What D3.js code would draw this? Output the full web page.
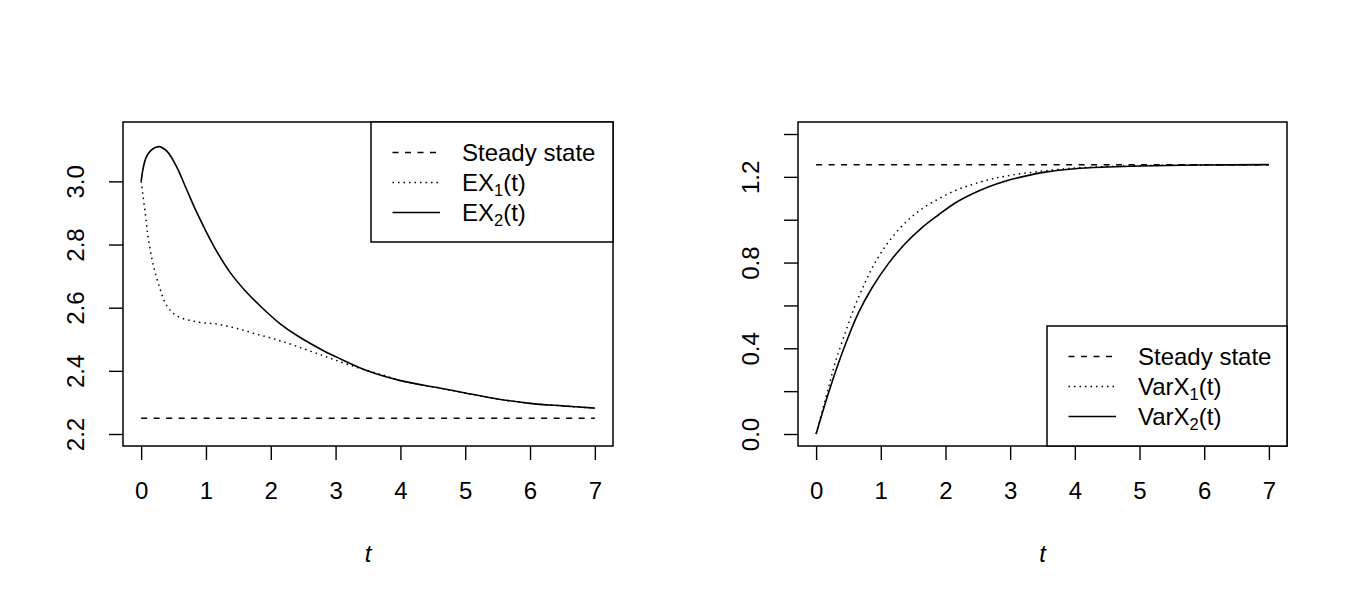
<!DOCTYPE html>
<html>
<head>
<meta charset="utf-8">
<script src="https://cdn.jsdelivr.net/npm/d3@7.9.0/dist/d3.min.js"></script>
<style>
  body { margin: 0; background: #fff; }
  svg text { font-family: "Liberation Sans", Arial, sans-serif; fill: #000; }
</style>
</head>
<body>
<svg id="chart" width="1350" height="600"></svg>
<script>
// x ticks shared by both panels
let tTicks = [0, 1, 2, 3, 4, 5, 6, 7];

// left panel: expectations
let meanTicks = [2.2, 2.4, 2.6, 2.8, 3.0];
let meanSteady = 2.25;
let ex1T = [0, 0.062, 0.113, 0.19, 0.294, 0.397, 0.55, 0.86, 1.17, 1.48, 1.79, 2.1, 2.41, 2.82, 3.25, 3.74, 4.0, 4.62, 5.0, 5.5, 6.0, 6.5, 7.0];
let ex1V = [3.0, 2.901, 2.817, 2.732, 2.658, 2.606, 2.574, 2.555, 2.548, 2.534, 2.516, 2.498, 2.477, 2.447, 2.416, 2.386, 2.369, 2.345, 2.330, 2.311, 2.297, 2.289, 2.282];
let ex2T = [0, 0.1, 0.27, 0.4, 0.55, 0.7, 0.86, 1.12, 1.375, 1.63, 1.89, 2.15, 2.41, 2.82, 3.0, 3.49, 4.0, 4.62, 5.0, 5.5, 6.0, 6.5, 7.0];
let ex2V = [3.0, 3.085, 3.110, 3.095, 3.045, 2.975, 2.901, 2.795, 2.711, 2.648, 2.595, 2.548, 2.511, 2.463, 2.445, 2.400, 2.369, 2.345, 2.330, 2.311, 2.297, 2.289, 2.282];

// right panel: variances
let varTicks = [0, 0.2, 0.4, 0.6, 0.8, 1.0, 1.2, 1.4];
let varLabels = [0, 0.4, 0.8, 1.2];
let varSteady = 1.257;
let var1T = [0, 0.19, 0.294, 0.448, 0.6, 0.757, 0.912, 1.117, 1.375, 1.633, 1.89, 2.15, 2.41, 2.66, 2.92, 3.44, 4.0, 4.5, 5.0, 6.0, 7.0];
let var1V = [0, 0.215, 0.332, 0.47, 0.597, 0.707, 0.80, 0.895, 0.985, 1.05, 1.097, 1.136, 1.164, 1.186, 1.203, 1.225, 1.241, 1.248, 1.252, 1.256, 1.257];
let var2T = [0, 0.19, 0.345, 0.5, 0.654, 0.86, 1.117, 1.375, 1.633, 1.89, 2.15, 2.41, 2.66, 2.92, 3.18, 3.54, 4.0, 4.5, 5.0, 6.0, 7.0];
let var2V = [0, 0.19, 0.33, 0.455, 0.565, 0.68, 0.795, 0.888, 0.962, 1.022, 1.078, 1.12, 1.153, 1.18, 1.2, 1.222, 1.238, 1.246, 1.251, 1.255, 1.257];

let dashed = '6,6.5';
let dotted = '1.5,4';
let fontSize = 24;

let svg = d3.select('#chart');
svg.append('rect').attr('width', 1350).attr('height', 600).attr('fill', '#fff');

// R style 4% padding around the limits
function padded(lo, hi) {
  let d = (hi - lo) * 0.04;
  return [lo - d, hi + d];
}

function drawPanel(opts) {
  let { left, right, top, bottom } = opts.box;
  let x = d3.scaleLinear().domain(padded(0, 7)).range([left, right]);
  let y = d3.scaleLinear().domain(padded(opts.ylim[0], opts.ylim[1])).range([bottom, top]);
  let g = svg.append('g');

  let xAxis = g.append('g')
    .attr('transform', `translate(0,${bottom})`)
    .call(d3.axisBottom(x).tickValues(tTicks).tickSize(14).tickPadding(22).tickFormat(d3.format('d')));
  xAxis.select('.domain').remove();
  xAxis.selectAll('text').attr('font-size', fontSize);

  let yAxis = g.append('g')
    .attr('transform', `translate(${left},0)`)
    .call(d3.axisLeft(y).tickValues(opts.yTicks).tickSize(14)
      .tickFormat((d) => opts.yLabels.some((v) => Math.abs(v - d) < 1e-9) ? d.toFixed(1) : ''));
  yAxis.select('.domain').remove();
  yAxis.selectAll('text')
    .attr('font-size', fontSize)
    .attr('x', null).attr('dy', null)
    .attr('text-anchor', 'middle')
    .attr('transform', 'translate(-39.5,0) rotate(-90)');
  g.selectAll('.tick line').attr('stroke', '#000').attr('stroke-width', 1.4);

  g.append('text')
    .attr('x', (left + right) / 2).attr('y', 562)
    .attr('text-anchor', 'middle')
    .attr('font-size', fontSize).attr('font-style', 'italic')
    .text('t');

  let line = d3.line().x((d) => x(d[0])).y((d) => y(d[1])).curve(d3.curveCatmullRom.alpha(0.5));

  g.append('path')
    .attr('d', line([[0, opts.steady], [7, opts.steady]]))
    .attr('fill', 'none').attr('stroke', '#000').attr('stroke-width', 1.5)
    .attr('stroke-dasharray', dashed);
  g.append('path')
    .attr('d', line(d3.zip(opts.s1T, opts.s1V)))
    .attr('fill', 'none').attr('stroke', '#000').attr('stroke-width', 1.5)
    .attr('stroke-dasharray', dotted);
  g.append('path')
    .attr('d', line(d3.zip(opts.s2T, opts.s2V)))
    .attr('fill', 'none').attr('stroke', '#000').attr('stroke-width', 1.6);

  g.append('rect')
    .attr('x', left).attr('y', top)
    .attr('width', right - left).attr('height', bottom - top)
    .attr('fill', 'none').attr('stroke', '#000').attr('stroke-width', 1.5);

  // legend
  let lg = opts.legend;
  let leg = g.append('g');
  leg.append('rect')
    .attr('x', lg.x).attr('y', lg.y).attr('width', lg.w).attr('height', 120)
    .attr('fill', '#fff').attr('stroke', '#000').attr('stroke-width', 1.5);
  let rows = [
    { dash: dashed, main: 'Steady state' },
    { dash: dotted, main: opts.prefix, sub: '1' },
    { dash: null, main: opts.prefix, sub: '2' }
  ];
  rows.forEach((r, i) => {
    let base = lg.y + 39 + i * 30;
    leg.append('line')
      .attr('x1', lg.x + 21.5).attr('x2', lg.x + 69)
      .attr('y1', base - 8.5).attr('y2', base - 8.5)
      .attr('stroke', '#000').attr('stroke-width', 1.5)
      .attr('stroke-dasharray', r.dash);
    let t = leg.append('text')
      .attr('x', lg.x + 91).attr('y', base)
      .attr('font-size', fontSize);
    t.append('tspan').text(r.main);
    if (r.sub) {
      t.append('tspan').attr('font-size', 16.5).attr('dy', 4.5).text(r.sub);
      t.append('tspan').attr('dy', -4.5).text('(t)');
    }
  });
}

drawPanel({
  box: { left: 123, right: 613, top: 122, bottom: 446 },
  ylim: [2.2, 3.15],
  yTicks: meanTicks,
  yLabels: meanTicks,
  steady: meanSteady,
  s1T: ex1T, s1V: ex1V,
  s2T: ex2T, s2V: ex2V,
  prefix: 'EX',
  legend: { x: 371, y: 122, w: 242 }
});

drawPanel({
  box: { left: 798, right: 1287, top: 122, bottom: 446 },
  ylim: [0, 1.4],
  yTicks: varTicks,
  yLabels: varLabels,
  steady: varSteady,
  s1T: var1T, s1V: var1V,
  s2T: var2T, s2V: var2V,
  prefix: 'VarX',
  legend: { x: 1047, y: 326, w: 240 }
});
</script>
</body>
</html>
